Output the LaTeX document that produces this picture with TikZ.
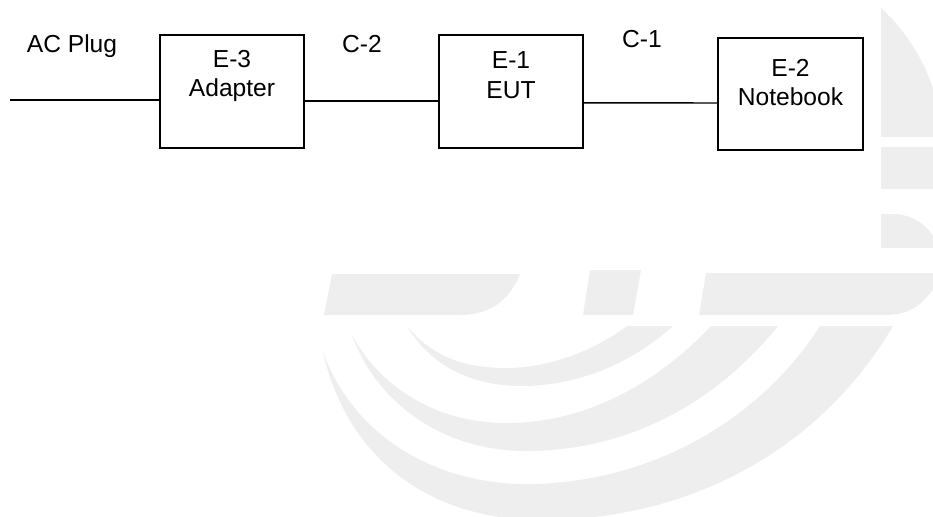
\documentclass[tikz,border=0pt]{standalone}
\usepackage{fontspec}
\setmainfont{Liberation Sans}
\usetikzlibrary{positioning}
\definecolor{wmgray}{RGB}{238,238,238}

\begin{document}
\begin{tikzpicture}[x=0.02cm,y=-0.02cm,line width=0.8pt,
  unitbox/.style={draw,minimum width=2.88cm,minimum height=2.26cm,inner sep=0pt},
  unitlabel/.style={align=center,font=\fontsize{14}{17}\selectfont},
  cablelabel/.style={anchor=base,font=\fontsize{14}{17}\selectfont},
  wm/.style={fill=wmgray,draw=none}]
\useasboundingbox (0,0) rectangle (933,517);
% watermark
\fill[wm] (332,274) -- (520,274) .. controls (510,300) and (490,315) .. (460,315) -- (324,315) -- cycle;
\fill[wm] (590,270) -- (641,270) -- (633,315) -- (583,315) -- cycle;
\fill[wm] (706,273) -- (940,273) -- (940,278) .. controls (925,305) and (910,315) .. (885,315) -- (699,315) -- cycle;
\fill[wm] (881,8) .. controls (905,30) and (925,60) .. (935,95) -- (935,137) -- (881,137) -- cycle;
\fill[wm] (881,147) rectangle (935,189);
\fill[wm] (881,214) -- (893,214) .. controls (912,214) and (928,225) .. (935,240) -- (935,248) -- (881,248) -- cycle;
\fill[wm] (407,326) .. controls (435,360) and (470,368) .. (506,368) .. controls (550,368) and (595,350) .. (627,326)
  -- (673,326) .. controls (630,365) and (575,386) .. (522,386) .. controls (470,386) and (430,365) .. (407,326) -- cycle;
\fill[wm] (352,335) .. controls (385,395) and (445,423) .. (506,423) .. controls (590,423) and (660,380) .. (711,326)
  -- (778,326) .. controls (710,410) and (620,451) .. (526,451) .. controls (440,451) and (375,400) .. (352,335) -- cycle;
\fill[wm] (323,352) .. controls (355,440) and (440,484) .. (526,484) .. controls (650,484) and (760,420) .. (820,326)
  -- (893,326) .. controls (820,450) and (690,520) .. (542,520) .. controls (420,520) and (345,450) .. (323,352) -- cycle;
% units
\node[unitbox] at (232,91.5) (E3) {};
\node[unitbox] at (511,91.5) (E1) {};
\node[unitbox,minimum width=2.9cm,minimum height=2.24cm] at (790.5,94) (E2) {};
\node[unitlabel] at (232,76) (E3text) {E-3\\Adapter};
\node[unitlabel] at (511,75) (E1text) {E-1\\EUT};
\node[unitlabel] at (790.5,82.5) (E2text) {E-2\\Notebook};
% cables
\coordinate (plug) at (10,100);
\node[cablelabel] at (72,53) (ACtext) {AC Plug};
\node[cablelabel] at (362,53) (C2text) {C-2};
\node[cablelabel] at (642,48) (C1text) {C-1};
\draw (plug) -- (plug -| E3.west);
\draw ([yshift=-5.4pt]E3.east) -- ([yshift=-5.4pt]E1.west);
\draw ([yshift=-6.5pt]E1.east) -- ([yshift=-5.1pt]E2.west);
\end{tikzpicture}
\end{document}
